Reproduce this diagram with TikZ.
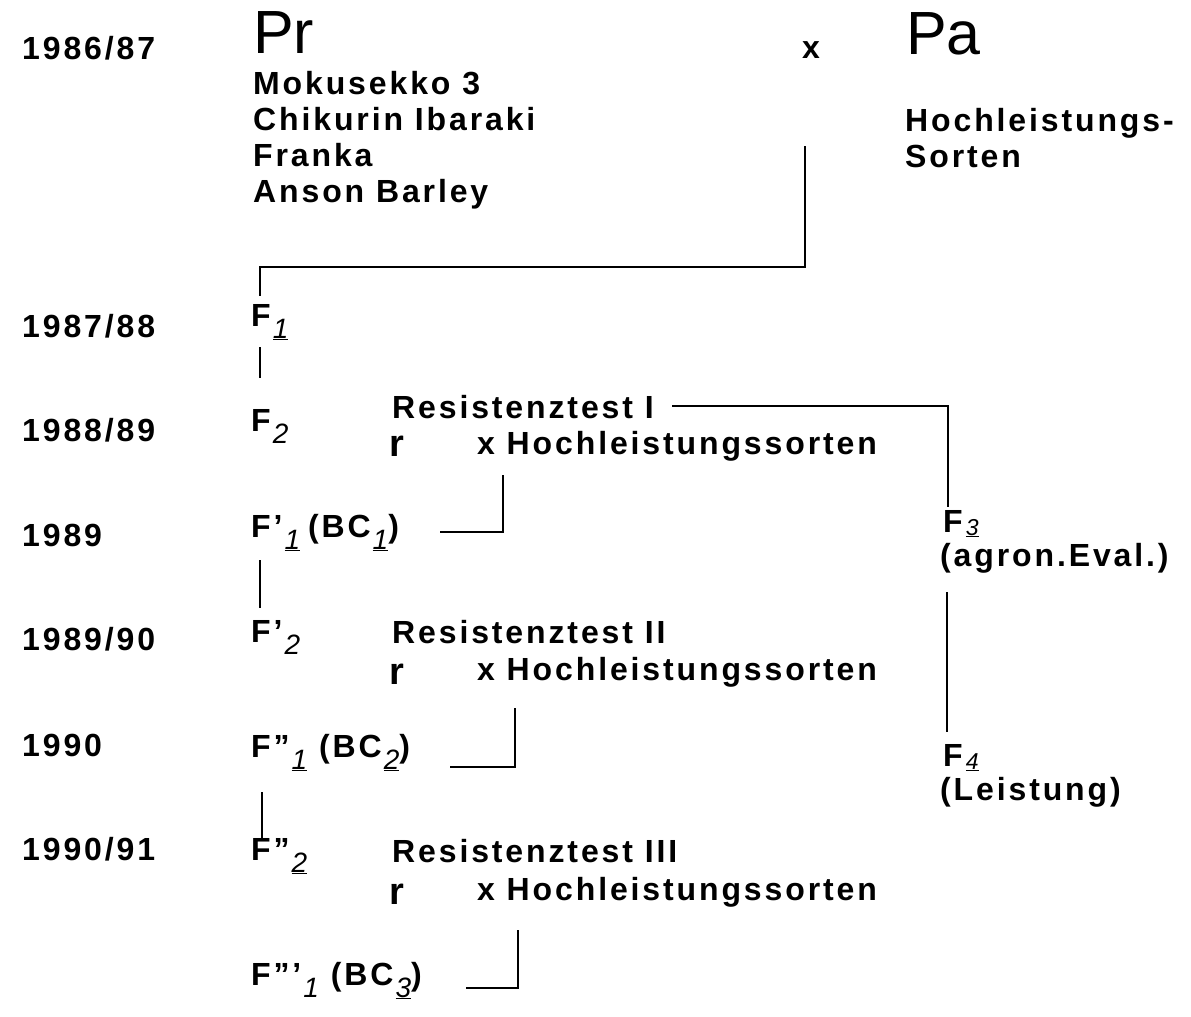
\documentclass[tikz,border=0pt]{standalone}
\usepackage{fontspec}
\newfontfamily\lab[LetterSpace=9]{Liberation Sans}
\newfontfamily\bigf{Liberation Sans}
\newfontfamily\subf{Liberation Sans}
\newcommand\sbx[1]{\hspace{2pt}\raisebox{-12pt}{\subf\mdseries\itshape\fontsize{28}{28}\selectfont #1}}
\newcommand\usbx[1]{\hspace{2pt}\raisebox{-12pt}{\subf\mdseries\itshape\fontsize{28}{28}\selectfont\underline{#1}}}
\newcommand\ssbx[1]{\hspace{3pt}\raisebox{-3pt}{\subf\mdseries\itshape\fontsize{23}{23}\selectfont\underline{#1}}}
\begin{document}
\begin{tikzpicture}[x=1pt,y=-1pt,
  txt/.style={anchor=base west,inner sep=0pt,font=\lab\bfseries\fontsize{32}{32}\selectfont},
  bigtxt/.style={anchor=base west,inner sep=0pt,font=\bigf\fontsize{61}{61}\selectfont},
  rtxt/.style={anchor=base west,inner sep=0pt,font=\lab\bfseries\fontsize{38}{38}\selectfont},
  conn/.style={line width=1.8pt}]
\useasboundingbox[fill=white] (0,0) rectangle (1191,1017);
% years
\node[txt] (y1) at (22,59) {1986/87};
\node[txt] (y2) at (22,337) {1987/88};
\node[txt] (y3) at (22,441) {1988/89};
\node[txt] (y4) at (22,546) {1989};
\node[txt] (y5) at (22,650) {1989/90};
\node[txt] (y6) at (22,756) {1990};
\node[txt] (y7) at (22,860) {1990/91};
% parents
\node[bigtxt] (pr) at (253,53) {Pr};
\node[txt] (px) at (802,58) {x};
\node[bigtxt] (pa) at (906,54) {Pa};
\node[txt] (l1) at (253,94) {Mokusekko 3};
\node[txt] (l2) at (253,130) {Chikurin Ibaraki};
\node[txt] (l3) at (253,166) {Franka};
\node[txt] (l4) at (253,202) {Anson Barley};
\node[txt] (h1) at (905,131) {Hochleistungs-};
\node[txt] (h2) at (905,167) {Sorten};
% generations
\node[txt] (f1) at (251,326) {F\usbx{1}};
\node[txt] (f2) at (251,431) {F\sbx{2}};
\node[txt] (f1p) at (251,537) {F’\usbx{1}\hspace{8pt}(BC\usbx{1})};
\node[txt] (f2p) at (251,642) {F’\sbx{2}};
\node[txt] (f1pp) at (251,757) {F”\usbx{1}\hspace{12pt}(BC\usbx{2})};
\node[txt] (f2pp) at (251,860) {F”\usbx{2}};
\node[txt] (f1ppp) at (251,985) {F”’\sbx{1}\hspace{12pt}(BC\usbx{3})};
% tests
\node[txt] (t1) at (392,418) {Resistenztest I};
\node[rtxt] (r1) at (389,456) {r};
\node[txt] (x1) at (477,454) {x Hochleistungssorten};
\node[txt] (t2) at (392,643) {Resistenztest II};
\node[rtxt] (r2) at (389,684) {r};
\node[txt] (x2) at (477,680) {x Hochleistungssorten};
\node[txt] (t3) at (392,862) {Resistenztest III};
\node[rtxt] (r3) at (389,904) {r};
\node[txt] (x3) at (477,900) {x Hochleistungssorten};
% right column
\node[txt] (f3) at (943,532) {F\ssbx{3}};
\node[txt] (ae) at (940,566) {(agron.Eval.)};
\node[txt] (f4) at (943,766) {F\ssbx{4}};
\node[txt] (le) at (940,800) {(Leistung)};
% connector coordinates
\coordinate (a1) at (805,146);
\coordinate (a2) at (805,267);
\coordinate (a3) at (260,267);
\coordinate (a4) at (260,296);
\coordinate (b1) at (260,347);
\coordinate (b2) at (260,378);
\coordinate (c1) at (672,406);
\coordinate (c2) at (948,406);
\coordinate (c3) at (948,507);
\coordinate (d1) at (503,475);
\coordinate (d2) at (503,532);
\coordinate (d3) at (440,532);
\coordinate (e1) at (260,560);
\coordinate (e2) at (260,608);
\coordinate (g1) at (947,592);
\coordinate (g2) at (947,732);
\coordinate (k1) at (515,708);
\coordinate (k2) at (515,767);
\coordinate (k3) at (450,767);
\coordinate (m1) at (262,792);
\coordinate (m2) at (262,838);
\coordinate (n1) at (518,930);
\coordinate (n2) at (518,988);
\coordinate (n3) at (466,988);
\draw[conn] (a1) -- (a2) -- (a3) -- (a4);
\draw[conn] (b1) -- (b2);
\draw[conn] (c1) -- (c2) -- (c3);
\draw[conn] (d1) -- (d2) -- (d3);
\draw[conn] (e1) -- (e2);
\draw[conn] (g1) -- (g2);
\draw[conn] (k1) -- (k2) -- (k3);
\draw[conn] (m1) -- (m2);
\draw[conn] (n1) -- (n2) -- (n3);
\end{tikzpicture}
\end{document}
